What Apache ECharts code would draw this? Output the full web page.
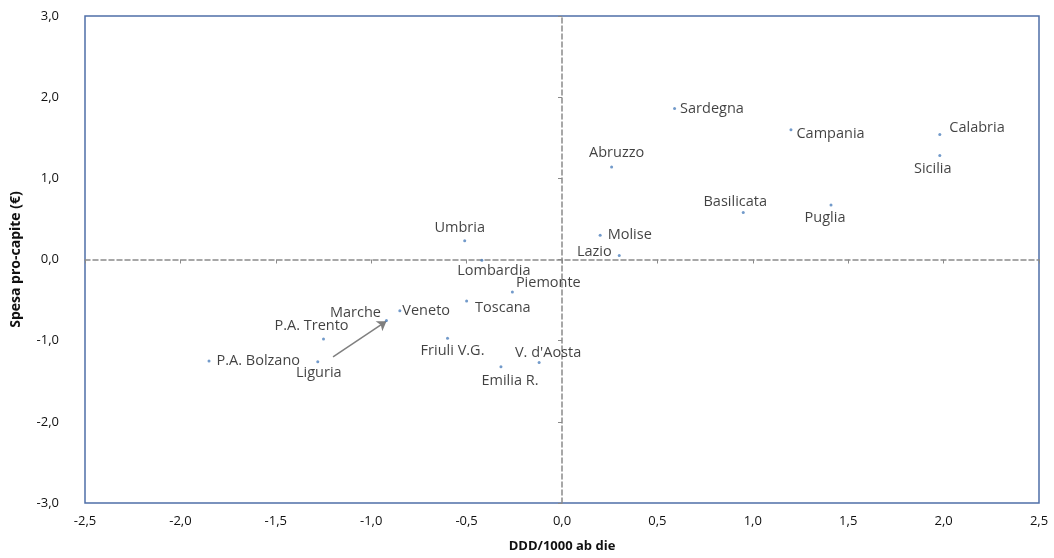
<!DOCTYPE html>
<html>
<head>
<meta charset="utf-8">
<script src="https://cdn.jsdelivr.net/npm/echarts@6/dist/echarts.min.js"></script>
<style>
html,body{margin:0;padding:0;background:#fff;}
#chart{width:1054px;height:558px;}
</style>
</head>
<body>
<div id="chart"></div>
<script>
const regions = ["Sardegna","Campania","Calabria","Sicilia","Abruzzo","Basilicata","Puglia","Molise","Lazio",
    "Umbria","Lombardia","Piemonte","Toscana","Friuli V.G.","Emilia R.","V. d'Aosta","Veneto","Marche",
    "P.A. Trento","P.A. Bolzano","Liguria"];
const dddValues = [0.59,1.20,1.98,1.98,0.26,0.95,1.41,0.20,0.30,
    -0.51,-0.42,-0.26,-0.50,-0.60,-0.32,-0.12,-0.85,-0.92,
    -1.25,-1.85,-1.28];
const spesaValues = [1.86,1.60,1.54,1.28,1.14,0.58,0.67,0.30,0.05,
    0.23,-0.01,-0.40,-0.51,-0.97,-1.32,-1.27,-0.63,-0.75,
    -0.98,-1.25,-1.26];
const arrowFrom = [-1.20,-1.20];
const arrowTo = [-0.92,-0.76];

// label placement per region (style only)
const labelPos = {
    "Sardegna":["right",[0,0]],
    "Campania":["right",[0,4]],
    "Calabria":["right",[4,-7]],
    "Sicilia":["bottom",[-7,0]],
    "Abruzzo":["top",[5,-1]],
    "Basilicata":["top",[-8,2]],
    "Puglia":["bottom",[-6,0]],
    "Molise":["right",[2,0]],
    "Lazio":["left",[-2,-4]],
    "Umbria":["top",[-5,0]],
    "Lombardia":["bottom",[12,-2]],
    "Piemonte":["right",[-2,-9]],
    "Toscana":["right",[3,7]],
    "Friuli V.G.":["bottom",[5,0]],
    "Emilia R.":["bottom",[9,1]],
    "V. d'Aosta":["top",[9,3]],
    "Veneto":["right",[-3,0]],
    "Marche":["left",[0,-8]],
    "P.A. Trento":["top",[-12,0]],
    "P.A. Bolzano":["right",[2,0]],
    "Liguria":["bottom",[1,-2]]
};

const points = regions.map((name,i) => {
    const p = labelPos[name];
    return {
        name:name,
        value:[dddValues[i], spesaValues[i]],
        label:{position:p[0], offset:p[1]}
    };
});

const fmt = v => v.toFixed(1).replace(".", ",");

const chart = echarts.init(document.getElementById("chart"));

chart.setOption({
    animation:false,
    grid:{
        left:85, right:15, top:16, bottom:55,
        show:true, borderColor:"#4f6fa8", borderWidth:1.5, backgroundColor:"#fff"
    },
    xAxis:[
        {
            type:"value", min:-2.5, max:2.5, interval:0.5,
            axisLine:{show:false, onZero:false},
            axisTick:{show:false},
            splitLine:{show:false},
            axisLabel:{color:"#111", fontFamily:"Open Sans", fontSize:13, margin:12, formatter:fmt},
            name:"DDD/1000 ab die", nameLocation:"middle", nameGap:37,
            nameTextStyle:{color:"#111", fontFamily:"Open Sans", fontWeight:"bold", fontSize:13}
        },
        {
            type:"value", min:-2.5, max:2.5, interval:0.5, position:"bottom",
            axisLine:{show:true, onZero:true, lineStyle:{color:"#8a8a8a", type:[5,3], width:1.5}},
            axisTick:{show:true, length:4, lineStyle:{color:"#8a8a8a"}},
            axisLabel:{show:false},
            splitLine:{show:false}
        }
    ],
    yAxis:[
        {
            type:"value", min:-3, max:3, interval:1,
            axisLine:{show:false, onZero:false},
            axisTick:{show:false},
            splitLine:{show:false},
            axisLabel:{color:"#111", fontFamily:"Open Sans", fontSize:13, margin:26, formatter:fmt},
            name:"Spesa pro-capite (€)", nameLocation:"middle", nameGap:62,
            nameTextStyle:{color:"#111", fontFamily:"Open Sans", fontWeight:"bold", fontSize:14}
        },
        {
            type:"value", min:-3, max:3, interval:1, position:"left",
            axisLine:{show:true, onZero:true, lineStyle:{color:"#8a8a8a", type:[5,3], width:1.5}},
            axisTick:{show:true, length:4, lineStyle:{color:"#8a8a8a"}},
            axisLabel:{show:false},
            splitLine:{show:false}
        }
    ],
    series:[
        {
            type:"scatter",
            xAxisIndex:0, yAxisIndex:0,
            symbol:"circle", symbolSize:3,
            itemStyle:{color:"#4f81bd"},
            label:{
                show:true, formatter:"{b}", color:"#111",
                fontFamily:"Open Sans", fontSize:14.5, distance:4
            },
            data:points
        },
        {
            type:"lines",
            coordinateSystem:"cartesian2d",
            xAxisIndex:0, yAxisIndex:0,
            symbol:["none","arrow"],
            symbolSize:9,
            silent:true,
            lineStyle:{color:"#7f7f7f", width:1.5, opacity:1},
            data:[{coords:[arrowFrom, arrowTo]}]
        }
    ]
});
</script>
</body>
</html>
